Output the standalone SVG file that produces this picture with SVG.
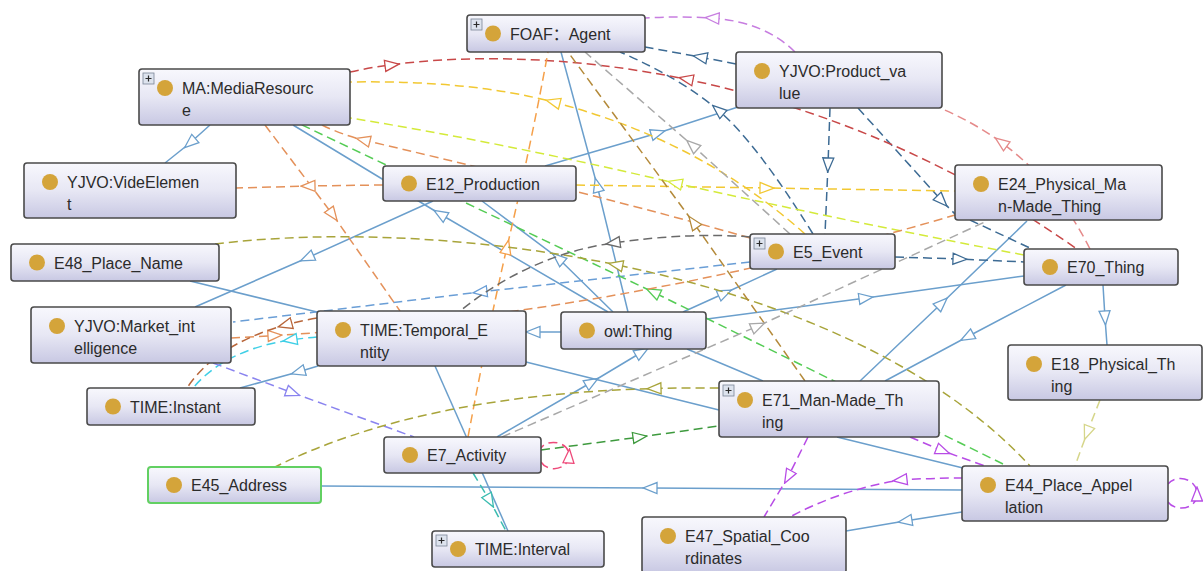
<svg xmlns="http://www.w3.org/2000/svg" width="1203" height="571" viewBox="0 0 1203 571">
  <style>
    .e { fill: none; stroke-width: 1.5; }
    .d { stroke-dasharray: 9 5; }
    .h { fill: none; stroke: none; }
    .n rect.b { fill: url(#nodeFill); stroke: #4a4a4a; stroke-width: 1.6; }
    .n circle { fill: #d4a43a; }
    .n text { font-family: "Liberation Sans", "Noto Sans CJK SC", sans-serif; font-size: 16px; fill: #2b2b2b; }
    .pb rect { fill: #dde3ee; stroke: #7b8597; stroke-width: 0.8; }
    .pb path { stroke: #2b2b2b; stroke-width: 1.2; fill: none; }
    .ah { fill: #fff; stroke-width: 1.3; stroke-linejoin: miter; }
  </style>
  <defs>
    <linearGradient id="nodeFill" x1="0" y1="0" x2="0" y2="1">
      <stop offset="0" stop-color="#f8f8fd"/>
      <stop offset="0.5" stop-color="#e7e7f4"/>
      <stop offset="1" stop-color="#c8c8e3"/>
    </linearGradient>
    <!-- open triangle arrowheads, one per edge colour -->
    <marker id="mB" viewBox="-8 -7 16 14" markerWidth="16" markerHeight="14" orient="auto" markerUnits="userSpaceOnUse"><path class="ah" d="M7,0 L-7,-5.5 L-7,5.5 Z" stroke="#6b9fcc"/></marker>
    <marker id="mLB" viewBox="-8 -7 16 14" markerWidth="16" markerHeight="14" orient="auto" markerUnits="userSpaceOnUse"><path class="ah" d="M7,0 L-7,-5.5 L-7,5.5 Z" stroke="#6a9ed6"/></marker>
    <marker id="mDB" viewBox="-8 -7 16 14" markerWidth="16" markerHeight="14" orient="auto" markerUnits="userSpaceOnUse"><path class="ah" d="M7,0 L-7,-5.5 L-7,5.5 Z" stroke="#3d6b94"/></marker>
    <marker id="mP" viewBox="-8 -7 16 14" markerWidth="16" markerHeight="14" orient="auto" markerUnits="userSpaceOnUse"><path class="ah" d="M7,0 L-7,-5.5 L-7,5.5 Z" stroke="#c77ee0"/></marker>
    <marker id="mR" viewBox="-8 -7 16 14" markerWidth="16" markerHeight="14" orient="auto" markerUnits="userSpaceOnUse"><path class="ah" d="M7,0 L-7,-5.5 L-7,5.5 Z" stroke="#c84848"/></marker>
    <marker id="mS" viewBox="-8 -7 16 14" markerWidth="16" markerHeight="14" orient="auto" markerUnits="userSpaceOnUse"><path class="ah" d="M7,0 L-7,-5.5 L-7,5.5 Z" stroke="#e58a8a"/></marker>
    <marker id="mY" viewBox="-8 -7 16 14" markerWidth="16" markerHeight="14" orient="auto" markerUnits="userSpaceOnUse"><path class="ah" d="M7,0 L-7,-5.5 L-7,5.5 Z" stroke="#f2c832"/></marker>
    <marker id="mL" viewBox="-8 -7 16 14" markerWidth="16" markerHeight="14" orient="auto" markerUnits="userSpaceOnUse"><path class="ah" d="M7,0 L-7,-5.5 L-7,5.5 Z" stroke="#d4ea3a"/></marker>
    <marker id="mG" viewBox="-8 -7 16 14" markerWidth="16" markerHeight="14" orient="auto" markerUnits="userSpaceOnUse"><path class="ah" d="M7,0 L-7,-5.5 L-7,5.5 Z" stroke="#55cc55"/></marker>
    <marker id="mO" viewBox="-8 -7 16 14" markerWidth="16" markerHeight="14" orient="auto" markerUnits="userSpaceOnUse"><path class="ah" d="M7,0 L-7,-5.5 L-7,5.5 Z" stroke="#f5a04a"/></marker>
    <marker id="mOR" viewBox="-8 -7 16 14" markerWidth="16" markerHeight="14" orient="auto" markerUnits="userSpaceOnUse"><path class="ah" d="M7,0 L-7,-5.5 L-7,5.5 Z" stroke="#e4915a"/></marker>
    <marker id="mBr" viewBox="-8 -7 16 14" markerWidth="16" markerHeight="14" orient="auto" markerUnits="userSpaceOnUse"><path class="ah" d="M7,0 L-7,-5.5 L-7,5.5 Z" stroke="#b8663a"/></marker>
    <marker id="mC" viewBox="-8 -7 16 14" markerWidth="16" markerHeight="14" orient="auto" markerUnits="userSpaceOnUse"><path class="ah" d="M7,0 L-7,-5.5 L-7,5.5 Z" stroke="#3fcfe6"/></marker>
    <marker id="mV" viewBox="-8 -7 16 14" markerWidth="16" markerHeight="14" orient="auto" markerUnits="userSpaceOnUse"><path class="ah" d="M7,0 L-7,-5.5 L-7,5.5 Z" stroke="#8a84ef"/></marker>
    <marker id="mOl" viewBox="-8 -7 16 14" markerWidth="16" markerHeight="14" orient="auto" markerUnits="userSpaceOnUse"><path class="ah" d="M7,0 L-7,-5.5 L-7,5.5 Z" stroke="#a8a43a"/></marker>
    <marker id="mGd" viewBox="-8 -7 16 14" markerWidth="16" markerHeight="14" orient="auto" markerUnits="userSpaceOnUse"><path class="ah" d="M7,0 L-7,-5.5 L-7,5.5 Z" stroke="#b48a3a"/></marker>
    <marker id="mGy" viewBox="-8 -7 16 14" markerWidth="16" markerHeight="14" orient="auto" markerUnits="userSpaceOnUse"><path class="ah" d="M7,0 L-7,-5.5 L-7,5.5 Z" stroke="#a8a8a8"/></marker>
    <marker id="mDG" viewBox="-8 -7 16 14" markerWidth="16" markerHeight="14" orient="auto" markerUnits="userSpaceOnUse"><path class="ah" d="M7,0 L-7,-5.5 L-7,5.5 Z" stroke="#6a6a6a"/></marker>
    <marker id="mDGr" viewBox="-8 -7 16 14" markerWidth="16" markerHeight="14" orient="auto" markerUnits="userSpaceOnUse"><path class="ah" d="M7,0 L-7,-5.5 L-7,5.5 Z" stroke="#3e9a3e"/></marker>
    <marker id="mT" viewBox="-8 -7 16 14" markerWidth="16" markerHeight="14" orient="auto" markerUnits="userSpaceOnUse"><path class="ah" d="M7,0 L-7,-5.5 L-7,5.5 Z" stroke="#3bbcb0"/></marker>
    <marker id="mPk" viewBox="-8 -7 16 14" markerWidth="16" markerHeight="14" orient="auto" markerUnits="userSpaceOnUse"><path class="ah" d="M7,0 L-7,-5.5 L-7,5.5 Z" stroke="#ee4a7a"/></marker>
    <marker id="mM" viewBox="-8 -7 16 14" markerWidth="16" markerHeight="14" orient="auto" markerUnits="userSpaceOnUse"><path class="ah" d="M7,0 L-7,-5.5 L-7,5.5 Z" stroke="#b84ce6"/></marker>
    <marker id="mK" viewBox="-8 -7 16 14" markerWidth="16" markerHeight="14" orient="auto" markerUnits="userSpaceOnUse"><path class="ah" d="M7,0 L-7,-5.5 L-7,5.5 Z" stroke="#d6d68a"/></marker>
  </defs>

  <rect width="1203" height="571" fill="#fff"/>

  <g id="connectors">
    <!-- subclass links (solid) -->
    <g stroke="#6b9fcc">
      <path class="e" marker-mid="url(#mB)" d="M 210 125 L 190 143 L 165 163"/>
      <path class="e" marker-mid="url(#mB)" d="M 433 201 L 307 258 L 195 307"/>
      <path class="e" marker-mid="url(#mB)" d="M 608 312 L 440 214 L 293 125"/>
      <path class="e" marker-mid="url(#mB)" d="M 613 312 L 558 258 L 482 201"/>
      <path class="e" marker-mid="url(#mB)" d="M 628 312 L 597 185 L 561 52"/>
      <path class="e" marker-mid="url(#mB)" d="M 545 166 L 658 133 L 738 107"/>
      <path class="e" marker-mid="url(#mB)" d="M 318 366 L 298 372 L 240 388"/>
      <path class="e" marker-mid="url(#mB)" d="M 561 332 L 533 332 L 526 332"/>
      <path class="e" marker-mid="url(#mB)" d="M 497 437 L 592 382 L 642 352 L 649 348"/>
      <path class="e" marker-mid="url(#mB)" d="M 707 319 L 866 298 L 1024 276"/>
      <path class="e" marker-mid="url(#mB)" d="M 683 312 L 725 293 L 777 269"/>
      <path class="e" d="M 687 349 L 763 381"/>
      <path class="e" d="M 526 362 L 719 410"/>
      <path class="e" marker-mid="url(#mB)" d="M 860 381 L 942 303 L 1027 221"/>
      <path class="e" marker-mid="url(#mB)" d="M 1066 285 L 967 337 L 885 381"/>
      <path class="e" marker-mid="url(#mB)" d="M 1103 285 L 1105 318 L 1107 345"/>
      <path class="e" marker-mid="url(#mB)" d="M 962 490 L 650 488 L 321 486"/>
      <path class="e" marker-mid="url(#mB)" d="M 962 512 L 905 521 L 846 531"/>
      <path class="e" d="M 837 437 L 963 468"/>
      <path class="e" d="M 190 281 L 317 312"/>
      <path class="e" d="M 435 366 L 508 531"/>
    </g>

    <!-- object property links (dashed) -->
    <path class="e d" stroke="#6a9ed6" marker-mid="url(#mLB)" d="M 750 262 L 480 292 L 233 322"/>

    <path class="e d" stroke="#3d6b94" marker-mid="url(#mDB)" d="M 736 64 L 700 57 L 645 47"/>
    <path class="e d" stroke="#3d6b94" marker-mid="url(#mDB)" d="M 813 234 Q 756 142 718 110 Q 680 78 620 52"/>
    <path class="e d" stroke="#3d6b94" marker-mid="url(#mDB)" d="M 830 108 L 828 165 L 825 234"/>
    <path class="e d" stroke="#3d6b94" marker-mid="url(#mDB)" d="M 858 108 L 942 201 L 956 215"/>
    <path class="e d" stroke="#3d6b94" d="M 970 220 L 1032 249"/>
    <path class="e d" stroke="#3d6b94" marker-mid="url(#mDB)" d="M 895 257 L 960 259 L 1024 262"/>

    <path class="e d" stroke="#c77ee0" marker-mid="url(#mP)" d="M 795 52 Q 765 22 712 18 Q 680 16 645 18"/>

    <path class="e d" stroke="#c84848" d="M 350 72 C 470 45 780 40 1077 249"/>
    <path class="h" marker-mid="url(#mR)" d="M 385 65.9 L 392 65 L 399 64.1"/>
    <path class="h" marker-mid="url(#mR)" d="M 693 80.4 L 686 79 L 679 77.6"/>

    <path class="e d" stroke="#e58a8a" marker-mid="url(#mS)" d="M 1090 249 Q 1056.7 183 1001.1 142.3 Q 973.3 122 940 108"/>

    <path class="e d" stroke="#f2c832" marker-mid="url(#mY)" d="M 805 234 Q 700 140 553 102 Q 470 80 350 82"/>
    <path class="e d" stroke="#f2c832" marker-mid="url(#mY)" d="M 576 185 L 767 188 L 955 191"/>

    <path class="e d" stroke="#d4ea3a" marker-mid="url(#mL)" d="M 1024 255 Q 850 222 675 183 Q 500 142 350 118"/>

    <path class="e d" stroke="#55cc55" marker-mid="url(#mG)" d="M 1003 464 L 653 292 L 300 124"/>

    <path class="e d" stroke="#f5a04a" marker-mid="url(#mO)" d="M 468 437 Q 490 320 507 247 Q 530 150 548 52"/>

    <path class="e d" stroke="#e4915a" marker-mid="url(#mOR)" d="M 265 125 L 333 215 L 400 311"/>
    <path class="e d" stroke="#e4915a" marker-mid="url(#mOR)" d="M 383 185 L 308 186 L 236 188"/>
    <path class="e d" stroke="#e4915a" marker-mid="url(#mOR)" d="M 750 238 Q 600 195 363 140 Q 340 134 322 125"/>
    <path class="e d" stroke="#e4915a" marker-mid="url(#mOR)" d="M 231 338 Q 253 337 275 335.5 Q 621 314 955 215"/>

    <path class="e d" stroke="#b8663a" marker-mid="url(#mBr)" d="M 317 318 Q 300 321 285 325 Q 215 345 187 388"/>
    <path class="e d" stroke="#3fcfe6" marker-mid="url(#mC)" d="M 317 337 Q 305 338 290 340 Q 225 350 193 388"/>
    <path class="e d" stroke="#8a84ef" marker-mid="url(#mV)" d="M 213 363 L 293 393 L 414 437"/>

    <path class="e d" stroke="#a8a43a" d="M 215 244 C 450 215 850 270 1030 466"/>
    <path class="h" marker-mid="url(#mOl)" d="M 622.7 266.2 L 615.7 264.8 L 608.7 263.4"/>
    <path class="e d" stroke="#a8a43a" marker-mid="url(#mOl)" d="M 719 388 Q 685.5 387.6 654 388.5 Q 420 395 275 467"/>

    <path class="e d" stroke="#b48a3a" marker-mid="url(#mGd)" d="M 805 381 L 693 222 L 568 52"/>
    <path class="e d" stroke="#a8a8a8" marker-mid="url(#mGy)" d="M 790 234 L 692 145 L 585 52"/>
    <path class="e d" stroke="#a8a8a8" marker-mid="url(#mGy)" d="M 502 437 L 758 326 L 987 221"/>
    <path class="e d" stroke="#6a6a6a" marker-mid="url(#mDG)" d="M 750 237 Q 690 232 613 243 Q 530 255 460 311"/>
    <path class="e d" stroke="#3e9a3e" marker-mid="url(#mDGr)" d="M 541 450 L 640 437 L 719 426"/>
    <path class="e d" stroke="#3bbcb0" marker-mid="url(#mT)" d="M 473 473 L 490 501 L 506 531"/>
    <path class="e d" stroke="#ee4a7a" marker-mid="url(#mPk)" d="M 541 462 C 548 473 568 470 569 456 C 570 442 548 438 541 448"/>

    <path class="e d" stroke="#b84ce6" marker-mid="url(#mM)" d="M 1168 502 C 1175 512 1197 510 1197 494 C 1197 478 1176 474 1168 484"/>
    <path class="e d" stroke="#b84ce6" marker-mid="url(#mM)" d="M 808 437 L 788 477 L 764 517"/>
    <path class="e d" stroke="#b84ce6" marker-mid="url(#mM)" d="M 910 437 L 943 451 L 985 466"/>
    <path class="e d" stroke="#b84ce6" marker-mid="url(#mM)" d="M 963 478 Q 930 478 900 480 Q 840 490 790 517"/>

    <path class="e d" stroke="#d6d68a" marker-mid="url(#mK)" d="M 1100 400 L 1087 433 L 1075 466"/>
  </g>

  <!-- class nodes -->
  <g id="foaf-agent" class="n">
    <rect class="b" x="467" y="15" width="178" height="37" rx="3"/>
    <g class="pb"><rect x="471" y="19" width="11" height="11"/><path d="M 473.5 24.5 H 479.5 M 476.5 21.5 V 27.5"/></g>
    <circle cx="493" cy="33.5" r="8"/>
    <text x="510" y="39.5">FOAF：Agent</text>
  </g>
  <g id="ma-mediaresource" class="n">
    <rect class="b" x="139" y="69" width="211" height="56" rx="3"/>
    <g class="pb"><rect x="143" y="73" width="11" height="11"/><path d="M 145.5 78.5 H 151.5 M 148.5 75.5 V 81.5"/></g>
    <circle cx="165" cy="88" r="8"/>
    <text x="182" y="94">MA:MediaResourc</text>
    <text x="182" y="116">e</text>
  </g>
  <g id="yjvo-product-value" class="n">
    <rect class="b" x="736" y="52" width="206" height="56" rx="3"/>
    <circle cx="762" cy="71" r="8"/>
    <text x="779" y="77">YJVO:Product_va</text>
    <text x="779" y="99">lue</text>
  </g>
  <g id="yjvo-videelement" class="n">
    <rect class="b" x="24" y="163" width="212" height="55" rx="3"/>
    <circle cx="50" cy="182" r="8"/>
    <text x="67" y="188">YJVO:VideElemen</text>
    <text x="67" y="210">t</text>
  </g>
  <g id="e12-production" class="n">
    <rect class="b" x="383" y="166" width="193" height="35" rx="3"/>
    <circle cx="409" cy="183.5" r="8"/>
    <text x="426" y="189.5">E12_Production</text>
  </g>
  <g id="e24-physical-man-made-thing" class="n">
    <rect class="b" x="955" y="165" width="207" height="55" rx="3"/>
    <circle cx="981" cy="184" r="8"/>
    <text x="998" y="190">E24_Physical_Ma</text>
    <text x="998" y="212">n-Made_Thing</text>
  </g>
  <g id="e48-place-name" class="n">
    <rect class="b" x="11" y="244" width="208" height="37" rx="3"/>
    <circle cx="37" cy="262.5" r="8"/>
    <text x="54" y="268.5">E48_Place_Name</text>
  </g>
  <g id="e5-event" class="n">
    <rect class="b" x="750" y="234" width="145" height="35" rx="3"/>
    <g class="pb"><rect x="754" y="238" width="11" height="11"/><path d="M 756.5 243.5 H 762.5 M 759.5 240.5 V 246.5"/></g>
    <circle cx="776" cy="251.5" r="8"/>
    <text x="793" y="257.5">E5_Event</text>
  </g>
  <g id="e70-thing" class="n">
    <rect class="b" x="1024" y="249" width="154" height="36" rx="3"/>
    <circle cx="1050" cy="267" r="8"/>
    <text x="1067" y="273">E70_Thing</text>
  </g>
  <g id="yjvo-market-intelligence" class="n">
    <rect class="b" x="31" y="307" width="200" height="56" rx="3"/>
    <circle cx="57" cy="326" r="8"/>
    <text x="74" y="332">YJVO:Market_int</text>
    <text x="74" y="354">elligence</text>
  </g>
  <g id="time-temporal-entity" class="n">
    <rect class="b" x="317" y="311" width="209" height="55" rx="3"/>
    <circle cx="343" cy="330" r="8"/>
    <text x="360" y="336">TIME:Temporal_E</text>
    <text x="360" y="358">ntity</text>
  </g>
  <g id="owl-thing" class="n">
    <rect class="b" x="561" y="312" width="145" height="37" rx="3"/>
    <circle cx="587" cy="330.5" r="8"/>
    <text x="604" y="336.5">owl:Thing</text>
  </g>
  <g id="e18-physical-thing" class="n">
    <rect class="b" x="1008" y="345" width="194" height="55" rx="3"/>
    <circle cx="1034" cy="364" r="8"/>
    <text x="1051" y="370">E18_Physical_Th</text>
    <text x="1051" y="392">ing</text>
  </g>
  <g id="time-instant" class="n">
    <rect class="b" x="87" y="388" width="168" height="37" rx="3"/>
    <circle cx="113" cy="406.5" r="8"/>
    <text x="130" y="412.5">TIME:Instant</text>
  </g>
  <g id="e71-man-made-thing" class="n">
    <rect class="b" x="719" y="381" width="220" height="56" rx="3"/>
    <g class="pb"><rect x="723" y="385" width="11" height="11"/><path d="M 725.5 390.5 H 731.5 M 728.5 387.5 V 393.5"/></g>
    <circle cx="745" cy="400" r="8"/>
    <text x="762" y="406">E71_Man-Made_Th</text>
    <text x="762" y="428">ing</text>
  </g>
  <g id="e7-activity" class="n">
    <rect class="b" x="384" y="437" width="157" height="36" rx="3"/>
    <circle cx="410" cy="455" r="8"/>
    <text x="427" y="461">E7_Activity</text>
  </g>
  <g id="e45-address" class="n">
    <rect class="b" x="148" y="467" width="173" height="36" rx="3" style="stroke:#62d062;stroke-width:2"/>
    <circle cx="174" cy="485" r="8"/>
    <text x="191" y="491">E45_Address</text>
  </g>
  <g id="e44-place-appellation" class="n">
    <rect class="b" x="962" y="466" width="206" height="55" rx="3"/>
    <circle cx="988" cy="485" r="8"/>
    <text x="1005" y="491">E44_Place_Appel</text>
    <text x="1005" y="513">lation</text>
  </g>
  <g id="e47-spatial-coordinates" class="n">
    <rect class="b" x="642" y="517" width="204" height="56" rx="3"/>
    <circle cx="668" cy="536" r="8"/>
    <text x="685" y="542">E47_Spatial_Coo</text>
    <text x="685" y="564">rdinates</text>
  </g>
  <g id="time-interval" class="n">
    <rect class="b" x="432" y="531" width="172" height="36" rx="3"/>
    <g class="pb"><rect x="436" y="535" width="11" height="11"/><path d="M 438.5 540.5 H 444.5 M 441.5 537.5 V 543.5"/></g>
    <circle cx="458" cy="549" r="8"/>
    <text x="475" y="555">TIME:Interval</text>
  </g>
</svg>
